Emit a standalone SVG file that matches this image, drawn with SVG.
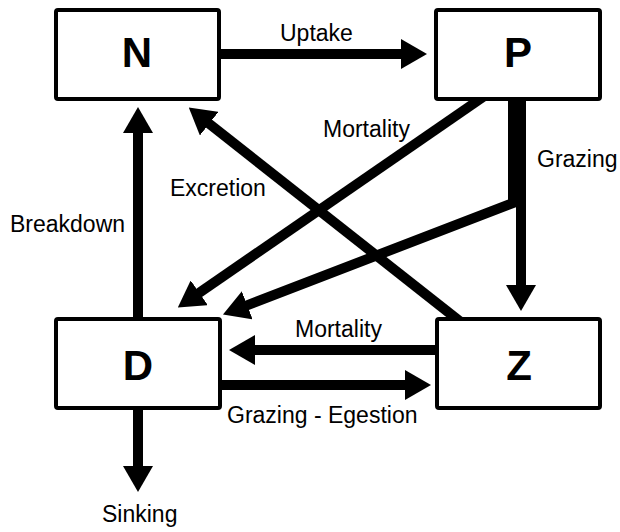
<svg xmlns="http://www.w3.org/2000/svg" width="620" height="532" viewBox="0 0 620 532">
<style>
.c{fill:none;stroke:#000;stroke-width:10;stroke-linejoin:miter;marker-end:url(#ah)}
.box{fill:#fff;stroke:#000;stroke-width:4}
.nl{font-family:"Liberation Sans",Arial,sans-serif;font-weight:bold;font-size:42px;text-anchor:middle;fill:#000}
.lb{font-family:"Liberation Sans",Arial,sans-serif;font-size:23px;fill:#000}
</style>
<defs>
<marker id="ah" markerUnits="userSpaceOnUse" viewBox="0 0 26 30" markerWidth="26" markerHeight="30" refX="1" refY="15" orient="auto">
<path d="M0,0 L26,15 L0,30 z" fill="#000"/>
</marker>
</defs>
<rect width="620" height="532" fill="#fff"/>
<g id="connectors">
<line class="c" x1="215" y1="54" x2="402" y2="54"/>
<line class="c" x1="138" y1="325" x2="138" y2="132"/>
<line class="c" x1="138" y1="400" x2="138" y2="467"/>
<line class="c" x1="521" y1="95" x2="521" y2="286"/>
<line class="c" x1="445" y1="350" x2="254" y2="350"/>
<line class="c" x1="215" y1="385" x2="406" y2="385"/>
<line class="c" x1="486" y1="95" x2="198.4" y2="293.3"/>
<polyline class="c" points="513,95 513,203 246.3,305.6"/>
<line class="c" x1="462" y1="323" x2="208.4" y2="123.1"/>
</g>
<g id="node-N"><rect class="box" x="56" y="10" width="163" height="89" rx="2"/><text class="nl" x="137" y="67">N</text></g>
<g id="node-P"><rect class="box" x="436" y="10" width="164" height="89" rx="2"/><text class="nl" x="518" y="67">P</text></g>
<g id="node-D"><rect class="box" x="56" y="319" width="164" height="89" rx="2"/><text class="nl" x="138" y="380">D</text></g>
<g id="node-Z"><rect class="box" x="437" y="319" width="163" height="89" rx="2"/><text class="nl" x="519" y="380">Z</text></g>
<g id="labels">
<text class="lb" x="280" y="41">Uptake</text>
<text class="lb" x="323" y="137">Mortality</text>
<text class="lb" x="537" y="167">Grazing</text>
<text class="lb" x="170" y="196">Excretion</text>
<text class="lb" x="10" y="232">Breakdown</text>
<text class="lb" x="295" y="337">Mortality</text>
<text class="lb" x="227" y="423">Grazing - Egestion</text>
<text class="lb" x="102" y="522">Sinking</text>
</g>
</svg>
